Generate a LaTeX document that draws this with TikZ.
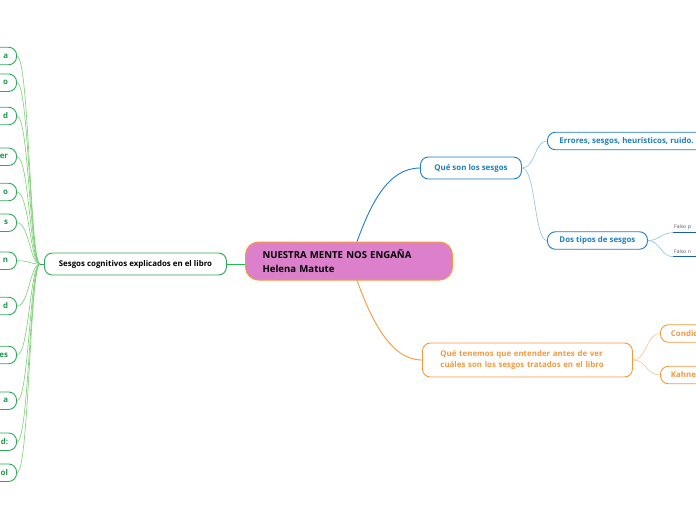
\documentclass[tikz,border=0pt]{standalone}
\usepackage{fontspec}
\setmainfont{Open Sans}
\usetikzlibrary{positioning}
\definecolor{rootfill}{RGB}{221,128,204}
\definecolor{orangeline}{RGB}{245,153,61}
\definecolor{orangesoft}{RGB}{250,196,142}
\definecolor{blueline}{RGB}{30,126,193}
\definecolor{bluesoft}{RGB}{142,192,226}
\definecolor{bluedark}{RGB}{22,98,168}
\definecolor{greenline}{RGB}{44,170,90}
\definecolor{greentext}{RGB}{32,150,76}
\definecolor{greensoft}{RGB}{122,206,112}

\begin{document}
\begin{tikzpicture}[x=1pt,y=-1pt,
  root/.style={draw=orangeline,fill=rootfill,line width=1pt,rounded corners=13pt,
    minimum height=38pt,text width=173pt,inner xsep=17pt,inner ysep=0pt,
    align=left,font=\fontsize{9.6}{13.7}\selectfont\bfseries,anchor=west},
  topic/.style={draw,fill=white,line width=0.9pt,rounded corners=8pt,
    inner ysep=0pt,font=\fontsize{7.9}{11.7}\selectfont\bfseries,anchor=west},
  sidetopic/.style={topic,draw=greenline,text=black,minimum height=22pt,minimum width=182pt},
  bluetopic/.style={topic,draw=blueline,text=blueline},
  orangetopic/.style={topic,draw=orangeline,text=orangeline},
  leafg/.style={topic,draw=greenline,text=greentext,minimum height=17.5pt,
    text width=40pt,align=right,inner xsep=8.5pt,anchor=east},
  leafline/.style={inner xsep=1pt,inner ysep=3pt,anchor=south west,text width=40pt,
    font=\fontsize{5}{6}\selectfont,text=black!70},
  mainlink/.style={line width=0.9pt},
  sublink/.style={line width=0.6pt}
]
\useasboundingbox (0,0) rectangle (696,520);
\clip (0,0) rectangle (696,520);

% centro
\node[root] (root) at (245,261) {NUESTRA MENTE NOS ENGAÑA\\Helena Matute};

% rama izquierda
\node[sidetopic] (sesgos) at (44,264) {Sesgos cognitivos explicados en el libro};
\coordinate (lj) at (40,264);
\foreach \i/\y/\t in {1/56/a,2/82.7/o,3/116/d,4/156.7/er,5/192/o,6/222.7/s,
    7/260.7/n,8/306/d,9/355/es,10/400.7/a,11/441.7/d:,12/472.7/ol}{
  \node[leafg] (l\i) at (17,\y) {\t};
  \draw[sublink,greensoft] (lj) .. controls +(-10,0) and +(12,0) .. (l\i.east);
}
\draw[mainlink,greenline] (sesgos.west) -- (lj);
\draw[mainlink,greenline!80!green] (sesgos.east) -- (sesgos.east -| root.west);

% rama azul
\node[bluetopic,minimum width=101pt,minimum height=22pt] (quees) at (420,168) {Qué son los sesgos};
\node[bluetopic,minimum height=17.5pt,inner xsep=12pt] (errores) at (547,141)
  {Errores, sesgos, heurísticos, ruido.};
\node[bluetopic,minimum width=100pt,minimum height=17.5pt] (dostipos) at (547,240.5)
  {Dos tipos de sesgos};
\node[leafline] (falsop) at (673,232.7) {Falso p};
\node[leafline] (falson) at (673,256.7) {Falso n};
\draw[line width=1.1pt,bluedark] (falsop.south west) -- +(40,0);
\draw[line width=1.1pt,bluedark] (falson.south west) -- +(40,0);

\draw[mainlink,blueline] ([xshift=8pt]root.north) .. controls +(14,-38) and +(-32,0) .. (quees.west);
\draw[sublink,bluesoft] (quees.east) .. controls +(14,0) and +(-13,0) .. (errores.west);
\draw[sublink,bluesoft] (quees.east) .. controls +(14,0) and +(-13,0) .. (dostipos.west);
\draw[sublink,bluesoft] (dostipos.east) .. controls +(12,0) and +(-12,0) .. (falsop.south west);
\draw[sublink,bluesoft] (dostipos.east) .. controls +(12,0) and +(-12,0) .. (falson.south west);

% rama naranja
\node[orangetopic,minimum height=34pt,text width=174pt,inner xsep=18pt,align=left]
  (quetenemos) at (422,360)
  {Qué tenemos que entender antes de ver\\cuáles son los sesgos tratados en el libro};
\node[orangetopic,minimum height=17.5pt,minimum width=60pt,inner xsep=10.5pt,align=left,
  text width=40pt] (condic) at (660,333.5) {Condic};
\node[orangetopic,minimum height=17.5pt,minimum width=60pt,inner xsep=10.5pt,align=left,
  text width=40pt] (kahne) at (660,375) {Kahne};

\draw[mainlink,orangeline] ([xshift=8pt]root.south) .. controls +(14,38) and +(-32,0) .. (quetenemos.west);
\draw[sublink,orangesoft] (quetenemos.east) .. controls +(14,0) and +(-14,0) .. (condic.west);
\draw[sublink,orangesoft] (quetenemos.east) .. controls +(14,0) and +(-14,0) .. (kahne.west);
\end{tikzpicture}
\end{document}
